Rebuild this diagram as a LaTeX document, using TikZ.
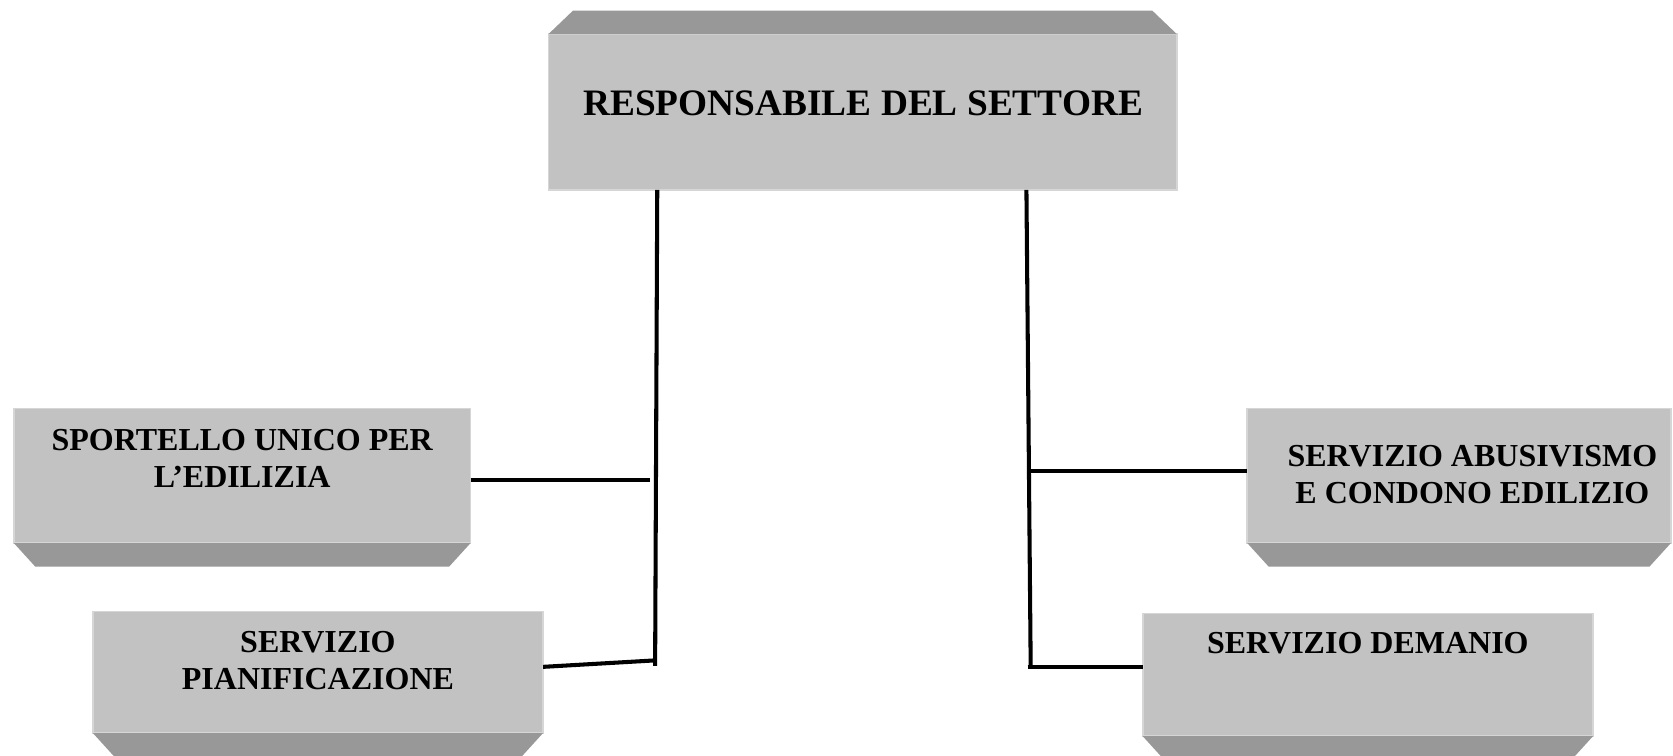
\documentclass[tikz,border=0pt]{standalone}
\usepackage{fontspec}
\setmainfont{Liberation Serif}
\usetikzlibrary{calc}
\definecolor{boxfront}{RGB}{194,194,194}
\definecolor{boxbevel}{RGB}{152,152,152}
\definecolor{boxedge}{RGB}{214,214,214}
\tikzset{
  frontbox/.style={rectangle, fill=boxfront, draw=boxedge, line width=1.5pt, inner sep=0pt, outer sep=0pt},
  bevelface/.style={fill=boxbevel, draw=none},
  boxlabel/.style={inner sep=0pt, outer sep=0pt, align=center, font=\bfseries\fontsize{30}{35}\selectfont},
  toplabel/.style={inner sep=0pt, outer sep=0pt, font=\bfseries\fontsize{35}{40}\selectfont},
  link/.style={line width=3.8pt, draw=black},
}
\begin{document}
\begin{tikzpicture}[x=1pt,y=-1pt]
\useasboundingbox (0,0) rectangle (1568,708);
\fill[white] (0,0) rectangle (1568,708);

% top box
\node[frontbox, minimum width=589pt, minimum height=146pt] (T) at (808.5,105) {};
\fill[bevelface] (T.north west) -- ($(T.north west)+(23,-22)$) -- ($(T.north east)+(-23,-22)$) -- (T.north east) -- cycle;
\node[toplabel] (Tt) at (809,97) {RESPONSABILE DEL SETTORE};

% Sportello
\node[frontbox, minimum width=428pt, minimum height=126pt] (S) at (227,446) {};
\fill[bevelface] (S.south west) -- ($(S.south west)+(20,22)$) -- ($(S.south east)+(-20,22)$) -- (S.south east) -- cycle;
\node[boxlabel] (St) at (227,429.5) {SPORTELLO UNICO PER\\L’EDILIZIA};

% Pianificazione
\node[frontbox, minimum width=422pt, minimum height=114pt] (P) at (298,630) {};
\fill[bevelface] (P.south west) -- ($(P.south west)+(20,22)$) -- ($(P.south east)+(-20,22)$) -- (P.south east) -- cycle;
\node[boxlabel] (Pt) at (298,619) {SERVIZIO\\PIANIFICAZIONE};

% Abusivismo
\node[frontbox, minimum width=397pt, minimum height=126pt] (A) at (1367.5,446) {};
\fill[bevelface] (A.south west) -- ($(A.south west)+(20,22)$) -- ($(A.south east)+(-20,22)$) -- (A.south east) -- cycle;
\node[boxlabel] (At) at (1380,444.5) {SERVIZIO ABUSIVISMO\\E CONDONO EDILIZIO};

% Demanio
\node[frontbox, minimum width=422pt, minimum height=115pt] (D) at (1282,632.5) {};
\fill[bevelface] (D.south west) -- ($(D.south west)+(20,22)$) -- ($(D.south east)+(-20,22)$) -- (D.south east) -- cycle;
\node[boxlabel] (Dt) at (1282,603) {SERVIZIO DEMANIO};

% connectors
\coordinate (ltop) at (616,178);
\coordinate (lbot) at (614,624);
\coordinate (sj) at (609,450);
\coordinate (pj) at (613,619);
\coordinate (pa) at (506,625);
\coordinate (rtop) at (962,178);
\coordinate (rbot) at (966,625);
\coordinate (aj) at (966,441);
\coordinate (dj) at (963,625);

\draw[link] (ltop) -- (lbot);
\draw[link] (S.east |- sj) -- (sj);
\draw[link] (P.east |- pa) -- (pj);
\draw[link] (rtop) -- (rbot);
\draw[link] (aj) -- (A.west |- aj);
\draw[link] (dj) -- (D.west |- dj);
\end{tikzpicture}
\end{document}
